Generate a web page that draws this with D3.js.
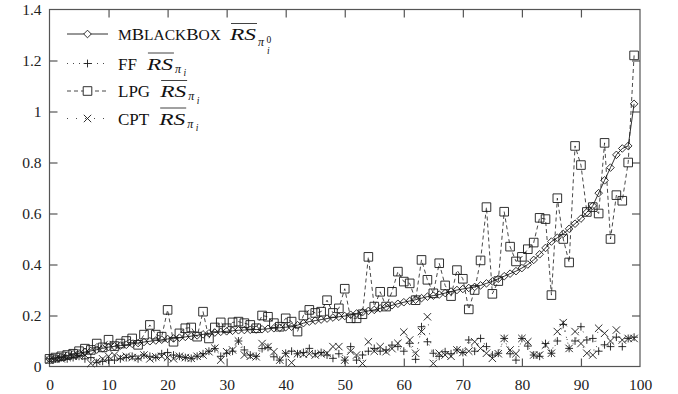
<!DOCTYPE html>
<html><head><meta charset="utf-8">
<script src="https://cdn.jsdelivr.net/npm/d3@7"></script>
<style>body{margin:0;background:#fff}svg{display:block}</style>
</head><body><svg id="c" width="678" height="394"></svg>
<script>
const xTicks = [0,10,20,30,40,50,60,70,80,90,100];
const yTicks = [0,0.2,0.4,0.6,0.8,1,1.2,1.4];
const yTickLabels = ["0","0.2","0.4","0.6","0.8","1","1.2","1.4"];
const seriesNames = ["mBlackBox","FF","LPG","CPT"];

const mblackbox = [0.030,0.034,0.038,0.043,0.048,0.052,0.057,0.061,0.066,0.071,
 0.076,0.079,0.082,0.085,0.089,0.092,0.096,0.099,0.102,0.105,
 0.108,0.110,0.113,0.116,0.119,0.122,0.126,0.130,0.133,0.136,
 0.138,0.140,0.142,0.143,0.144,0.145,0.146,0.148,0.150,0.152,
 0.154,0.156,0.162,0.170,0.176,0.180,0.184,0.188,0.192,0.195,
 0.198,0.203,0.208,0.213,0.218,0.222,0.228,0.234,0.240,0.246,
 0.252,0.257,0.262,0.268,0.274,0.278,0.282,0.288,0.294,0.300,
 0.304,0.308,0.312,0.318,0.326,0.334,0.344,0.354,0.364,0.374,
 0.386,0.400,0.418,0.440,0.465,0.490,0.505,0.520,0.540,0.560,
 0.580,0.605,0.630,0.680,0.730,0.780,0.830,0.855,0.865,1.030];

const ff = [0.030,0.030,0.035,0.030,0.035,0.040,0.030,0.035,0.015,0.020,
 0.025,0.025,0.030,0.035,0.040,0.030,0.045,0.040,0.035,0.050,
 0.055,0.045,0.040,0.035,0.032,0.040,0.050,0.060,0.070,0.040,
 0.052,0.060,0.100,0.065,0.045,0.040,0.070,0.075,0.038,0.025,
 0.052,0.060,0.050,0.055,0.071,0.050,0.055,0.045,0.032,0.050,
 0.025,0.078,0.025,0.045,0.060,0.071,0.060,0.065,0.084,0.078,
 0.060,0.091,0.028,0.156,0.097,0.052,0.040,0.058,0.050,0.065,
 0.055,0.104,0.060,0.110,0.078,0.045,0.052,0.110,0.050,0.025,
 0.110,0.080,0.045,0.040,0.090,0.052,0.100,0.165,0.071,0.100,
 0.156,0.104,0.110,0.060,0.085,0.078,0.115,0.078,0.110,0.115];

const lpg = [0.030,0.035,0.040,0.045,0.050,0.060,0.070,0.065,0.090,0.075,
 0.105,0.080,0.090,0.100,0.110,0.085,0.125,0.163,0.125,0.117,
 0.222,0.097,0.130,0.150,0.153,0.117,0.215,0.110,0.153,0.173,
 0.150,0.173,0.176,0.170,0.163,0.150,0.200,0.195,0.170,0.156,
 0.189,0.176,0.137,0.200,0.222,0.210,0.215,0.260,0.210,0.228,
 0.305,0.189,0.189,0.205,0.430,0.235,0.293,0.235,0.293,0.372,
 0.333,0.326,0.260,0.418,0.340,0.287,0.405,0.318,0.276,0.378,
 0.344,0.224,0.300,0.416,0.625,0.285,0.335,0.607,0.470,0.412,
 0.430,0.460,0.486,0.583,0.578,0.280,0.660,0.500,0.408,0.865,
 0.790,0.606,0.625,0.600,0.877,0.500,0.672,0.650,0.800,1.220];

const cpt = [0.025,0.030,0.030,0.035,0.040,0.040,0.045,0.012,0.020,0.030,
 0.040,0.045,0.035,0.040,0.035,0.035,0.045,0.030,0.038,0.040,
 0.035,0.030,0.040,0.035,0.032,0.040,0.045,0.058,0.072,0.025,
 0.058,0.065,0.100,0.045,0.040,0.038,0.090,0.078,0.058,0.025,
 0.050,0.015,0.050,0.048,0.050,0.045,0.050,0.052,0.078,0.078,
 0.025,0.060,0.045,0.012,0.097,0.060,0.078,0.058,0.070,0.091,
 0.135,0.104,0.052,0.137,0.195,0.012,0.052,0.045,0.040,0.065,
 0.055,0.060,0.097,0.071,0.052,0.032,0.050,0.110,0.065,0.050,
 0.110,0.097,0.045,0.045,0.084,0.052,0.137,0.172,0.071,0.137,
 0.090,0.052,0.045,0.150,0.130,0.100,0.143,0.104,0.110,0.110];

const W = 678, H = 394;
const m = {left:49.5, right:640, top:9.5, bottom:366.5};
const x = d3.scaleLinear().domain([0,100]).range([m.left, m.right]);
const y = d3.scaleLinear().domain([0,1.4]).range([m.bottom, m.top]);
const svg = d3.select("#c");
const FONT = "'Liberation Serif','Times New Roman',serif";
const frameColor = "#555";
const ink = "#1a1a1a";

svg.append("rect").attr("x",m.left).attr("y",m.top)
  .attr("width",m.right-m.left).attr("height",m.bottom-m.top)
  .attr("fill","none").attr("stroke",frameColor).attr("stroke-width",1.2);

const TL = 8;
const gx = svg.append("g").attr("transform",`translate(0,${m.bottom})`)
  .call(d3.axisBottom(x).tickValues(xTicks).tickSize(-TL).tickPadding(12).tickFormat(d3.format("d")));
const gxTop = svg.append("g").attr("transform",`translate(0,${m.top})`)
  .call(d3.axisTop(x).tickValues(xTicks).tickSize(-TL).tickFormat(""));
const gy = svg.append("g").attr("transform",`translate(${m.left},0)`)
  .call(d3.axisLeft(y).tickValues(yTicks).tickSize(-TL).tickPadding(8).tickFormat((d,i)=>yTickLabels[i]));
const gyR = svg.append("g").attr("transform",`translate(${m.right},0)`)
  .call(d3.axisRight(y).tickValues(yTicks).tickSize(-TL).tickFormat(""));
[gx,gxTop,gy,gyR].forEach(g=>{
  g.select(".domain").remove();
  g.selectAll(".tick line").attr("stroke",frameColor).attr("stroke-width",1.2);
  g.selectAll("text").attr("font-family",FONT).attr("font-size",15.5).attr("fill","#222");
});
gx.selectAll(".tick text").attr("dy","0.71em");
gx.selectAll(".tick line").filter(d=>d===0||d===100).remove();
gxTop.selectAll(".tick line").filter(d=>d===0||d===100).remove();
gy.selectAll(".tick line").filter(d=>d===0||d===1.4).remove();
gyR.selectAll(".tick line").filter(d=>d===0||d===1.4).remove();

function markerPath(type, cx, cy){
  const p = d3.path();
  if(type==="diamond"){ const s=3.8; p.moveTo(cx,cy-s);p.lineTo(cx+s,cy);p.lineTo(cx,cy+s);p.lineTo(cx-s,cy);p.closePath(); }
  else if(type==="square"){ const s=4.3; p.rect(cx-s,cy-s,2*s,2*s); }
  else if(type==="plus"){ const s=3.9; p.moveTo(cx-s,cy);p.lineTo(cx+s,cy);p.moveTo(cx,cy-s);p.lineTo(cx,cy+s); }
  else if(type==="cross"){ const s=3.7; p.moveTo(cx-s,cy-s);p.lineTo(cx+s,cy+s);p.moveTo(cx-s,cy+s);p.lineTo(cx+s,cy-s); }
  return p.toString();
}

const series = [
  {vals:mblackbox, marker:"diamond", dash:null, lw:0.9},
  {vals:ff, marker:"plus", dash:"1,5", lw:0.8},
  {vals:lpg, marker:"square", dash:"4,3", lw:0.8},
  {vals:cpt, marker:"cross", dash:"1,8", lw:0.8}
];
const line = d3.line().x((d,i)=>x(i)).y(d=>y(d));
const plotG = svg.append("g");
[3,1,2,0].forEach(k=>{
  const s = series[k];
  const g = plotG.append("g");
  g.append("path").attr("d",line(s.vals)).attr("fill","none")
    .attr("stroke",ink).attr("stroke-width",s.lw)
    .attr("stroke-dasharray",s.dash);
  g.selectAll("path.mk").data(s.vals).join("path").attr("class","mk")
    .attr("d",(d,i)=>markerPath(s.marker,x(i),y(d)))
    .attr("fill","none").attr("stroke",ink).attr("stroke-width",0.9);
});

// legend
const legY = [34, 63.5, 91, 118.5];
const lx0 = 67, lx1 = 108, lmx = 87.5, tx = 118;
const LF = 17;
seriesNames.forEach((name,k)=>{
  const s = series[k];
  const ly = legY[k];
  svg.append("line").attr("x1",lx0).attr("x2",lx1).attr("y1",ly).attr("y2",ly)
    .attr("stroke",ink).attr("stroke-width",s.lw).attr("stroke-dasharray",s.dash);
  svg.append("path").attr("d",markerPath(s.marker,lmx,ly)).attr("fill","#fff")
    .attr("stroke",ink).attr("stroke-width",0.9);
  const base = ly + 6;
  let cx = tx;
  const t1 = svg.append("text").attr("x",cx).attr("y",base).attr("font-family",FONT)
    .attr("font-size",LF).attr("fill","#111");
  if(k===0){
    const parts = name.match(/[A-Z]+|[a-z]+/g);
    parts.forEach(p=>{
      const lower = p === p.toLowerCase();
      t1.append("tspan").attr("font-size", lower ? LF*0.84 : LF).text(p.toUpperCase());
    });
    t1.attr("textLength",103).attr("lengthAdjust","spacingAndGlyphs");
    cx += 112;
  } else {
    t1.text(name);
    cx += t1.node().getComputedTextLength() + 10;
  }
  const w2 = 26;
  svg.append("text").attr("x",cx).attr("y",base).attr("font-family",FONT)
    .attr("font-size",LF).attr("font-style","italic").attr("fill","#111").text("RS")
    .attr("textLength",w2).attr("lengthAdjust","spacingAndGlyphs");
  svg.append("line").attr("x1",cx+1).attr("x2",cx+w2+1).attr("y1",base-16.5).attr("y2",base-16.5)
    .attr("stroke","#111").attr("stroke-width",0.8);
  cx += w2 + 2;
  const piDy = k===0 ? 6 : 3;
  const t3 = svg.append("text").attr("x",cx).attr("y",base+piDy).attr("font-family",FONT)
    .attr("font-size",12).attr("font-style","italic").attr("fill","#111").text("π");
  cx += t3.node().getComputedTextLength() + 2.5;
  if(k===0){
    svg.append("text").attr("x",cx).attr("y",base+2.5).attr("font-family",FONT)
      .attr("font-size",9.5).attr("fill","#111").text("0");
    svg.append("text").attr("x",cx+0.5).attr("y",base+13.5).attr("font-family",FONT)
      .attr("font-size",9.5).attr("font-style","italic").attr("fill","#111").text("i");
  } else {
    svg.append("text").attr("x",cx).attr("y",base+6.5).attr("font-family",FONT)
      .attr("font-size",9.5).attr("font-style","italic").attr("fill","#111").text("i");
  }
});
</script></body></html>
